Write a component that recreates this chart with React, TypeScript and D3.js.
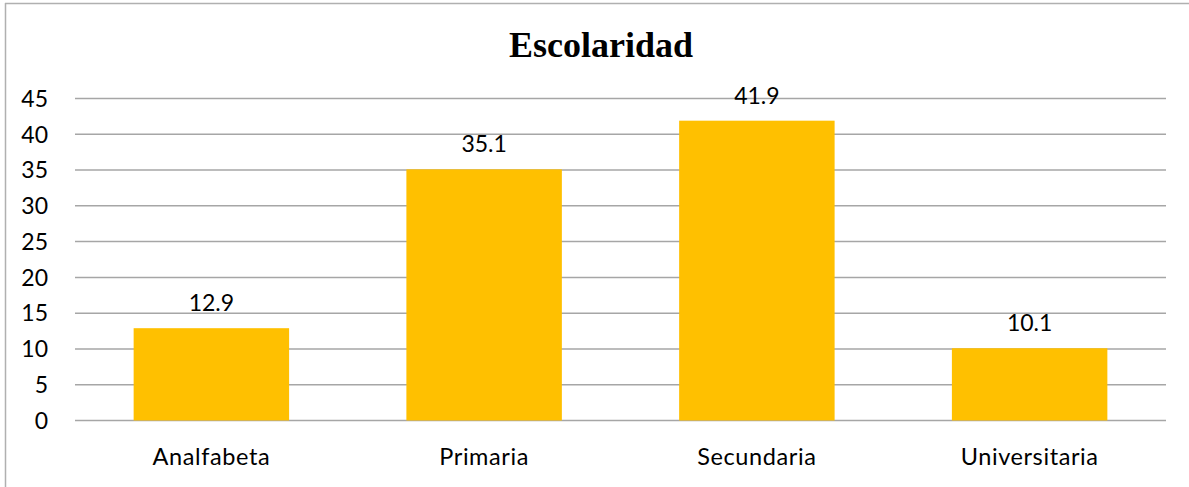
import * as d3 from "d3";

const categories = ["Analfabeta", "Primaria", "Secundaria", "Universitaria"];
const values = [12.9, 35.1, 41.9, 10.1];
const yTicks = [0, 5, 10, 15, 20, 25, 30, 35, 40, 45];

const W = 1189;
const H = 487;
const margin = { left: 75, right: 23, top: 99, bottom: 65 };
const font = "Lato, 'Open Sans', sans-serif";

export default function App() {
  const x = d3
    .scaleBand<string>()
    .domain(categories)
    .range([margin.left, W - margin.right])
    .paddingInner(0.43)
    .paddingOuter(0.215);
  const y = d3.scaleLinear().domain([0, 45]).range([H - margin.bottom - 1.5, margin.top - 0.5]);

  return (
    <svg
      width={W}
      height={H}
      style={{ position: "absolute", left: 0, top: 0, background: "#fff" }}
    >
      {/* chart border */}
      <line x1={5.5} x2={5.5} y1={3} y2={H} stroke="#b0b0b0" strokeWidth={1.5} />
      <line x1={5} x2={W} y1={3.5} y2={3.5} stroke="#b0b0b0" strokeWidth={1.5} />

      <text
        x={601}
        y={57}
        textAnchor="middle"
        fontFamily="'Liberation Serif', serif"
        fontWeight="bold"
        fontSize={36}
        fill="#000"
      >
        Escolaridad
      </text>

      {yTicks.map((t) => (
        <g key={t}>
          <line
            x1={margin.left}
            x2={W - margin.right}
            y1={y(t)}
            y2={y(t)}
            stroke="#a6a6a6"
            strokeWidth={1.5}
          />
          <text
            x={48}
            y={y(t)}
            dy="0.36em"
            textAnchor="end"
            fontFamily={font}
            fontSize={23}
            fill="#000"
          >
            {t}
          </text>
        </g>
      ))}

      {categories.map((c, i) => (
        <g key={c}>
          <rect
            x={x(c)}
            y={y(values[i])}
            width={x.bandwidth()}
            height={y(0) - y(values[i])}
            fill="#FFC000"
          />
          <text
            x={(x(c) ?? 0) + x.bandwidth() / 2}
            y={y(values[i]) - 17}
            textAnchor="middle"
            fontFamily={font}
            fontSize={23}
            fill="#000"
          >
            {values[i]}
          </text>
          <text
            x={(x(c) ?? 0) + x.bandwidth() / 2}
            y={465}
            textAnchor="middle"
            fontFamily={font}
            fontSize={23.5}
            letterSpacing={0.6}
            fill="#000"
          >
            {c}
          </text>
        </g>
      ))}
    </svg>
  );
}
